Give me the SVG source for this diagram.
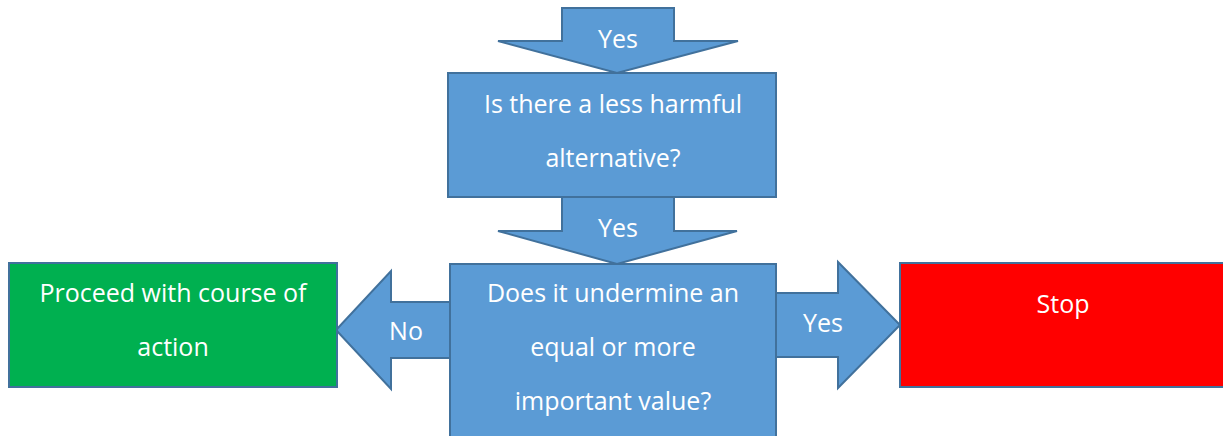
<svg xmlns="http://www.w3.org/2000/svg" width="1223" height="436" viewBox="0 0 1223 436">
<style>
.blue{fill:#5B9BD5;stroke:#41719C;stroke-width:2;stroke-linejoin:miter}
.green{fill:#00B050;stroke:#41719C;stroke-width:2}
.red{fill:#FF0000;stroke:#41719C;stroke-width:2}
text{font-family:"Open Sans","Liberation Sans",sans-serif;font-size:25px;fill:#FFFFFF;text-anchor:middle}
</style>
<rect width="1223" height="436" fill="#FFFFFF"/>
<g id="connectors">
<g id="arrow-top">
<polygon class="blue" points="562,8 674,8 674,41 738,41 617,73 498,41 562,41"/>
<text x="618" y="48">Yes</text>
</g>
<g id="arrow-mid">
<polygon class="blue" points="562,197 674,197 674,231 737,231 617,264 498,231 562,231"/>
<text x="618" y="237">Yes</text>
</g>
<g id="arrow-left">
<polygon class="blue" points="450,302 391,302 391,271 336,330 391,389 391,358 450,358"/>
<text x="406" y="340">No</text>
</g>
<g id="arrow-right">
<polygon class="blue" points="776,293 838,293 838,262 900,325 838,388 838,357 776,357"/>
<text x="823" y="332">Yes</text>
</g>
</g>
<g id="node-alternative">
<rect class="blue" x="448" y="73" width="328" height="124"/>
<text x="613" y="113">Is there a less harmful</text>
<text x="613" y="167">alternative?</text>
</g>
<g id="node-undermine">
<rect class="blue" x="450" y="264" width="326" height="180"/>
<text x="613" y="302">Does it undermine an</text>
<text x="613" y="356">equal or more</text>
<text x="613" y="410">important value?</text>
</g>
<g id="node-proceed">
<rect class="green" x="9" y="263" width="328" height="124"/>
<text x="173" y="302">Proceed with course of</text>
<text x="173" y="356">action</text>
</g>
<g id="node-stop">
<rect class="red" x="900" y="263" width="328" height="124"/>
<text x="1063" y="313">Stop</text>
</g>
</svg>
